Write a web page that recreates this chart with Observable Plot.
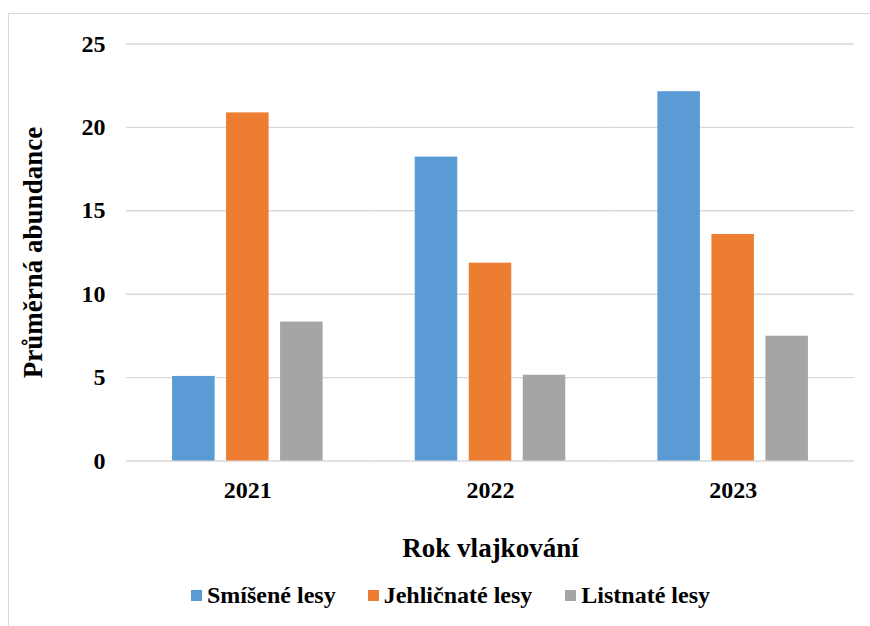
<!DOCTYPE html>
<html><head><meta charset="utf-8">
<script src="https://cdn.jsdelivr.net/npm/d3@7"></script>
<script src="https://cdn.jsdelivr.net/npm/@observablehq/plot@0.6"></script>
<style>
html,body{margin:0;padding:0;background:#fff;overflow:hidden;width:870px;height:626px;}
#frame{position:absolute;left:7.5px;top:12.5px;width:900px;height:700px;border:1.5px solid #d9d9d9;box-sizing:border-box}
#chart{position:absolute;left:0;top:0}
#legend{position:absolute;left:191px;top:580px;height:30px;display:flex;align-items:center;font:bold 24px "Liberation Serif","Times New Roman",serif;color:#000;white-space:nowrap}
#legend .item{display:flex;align-items:center}
#legend .sw{width:11px;height:11px;margin-right:5px}
</style>
</head><body>
<div id="frame"></div>
<div id="chart"></div>
<div id="legend"></div>
<script>
const years = ["2021", "2022", "2023"];
const types = ["Smíšené lesy", "Jehličnaté lesy", "Listnaté lesy"];
const smiseneLesy = [5.07, 18.22, 22.14];
const jehlicnateLesy = [20.87, 11.86, 13.58];
const listnateLesy = [8.33, 5.14, 7.48];
const colors = ["#5B9BD5", "#ED7D31", "#A5A5A5"];
const yTicks = [0, 5, 10, 15, 20, 25];
const yTitle = "Průměrná abundance";
const xTitle = "Rok vlajkování";

const seriesValues = [smiseneLesy, jehlicnateLesy, listnateLesy];
const table = [];
years.forEach((yr, i) => types.forEach((t, j) => table.push({year: yr, type: t, value: seriesValues[j][i]})));

const H = 575;
const chart = Plot.plot({
  width: 870,
  height: H,
  marginLeft: 126,
  marginRight: 16,
  marginTop: 43.5,
  marginBottom: H - 460.5,
  style: {fontFamily: '"Liberation Serif", "Times New Roman", serif', fontSize: "24px", fontWeight: "bold", color: "#000", background: "transparent", overflow: "visible"},
  fx: {domain: years, padding: 0, round: false, label: xTitle, labelAnchor: "center", labelOffset: 96, tickSize: 0, tickPadding: 20},
  x: {domain: types, paddingInner: 0.213, paddingOuter: 0.853, round: false, axis: null},
  y: {domain: [0, 25], ticks: yTicks, tickSize: 0, tickPadding: 21, label: yTitle, labelAnchor: "center", labelArrow: "none", labelOffset: 104},
  color: {domain: types, range: colors},
  marks: [
    Plot.gridY(yTicks, {stroke: "#d9d9d9", strokeOpacity: 1, strokeWidth: 1.4}),
    Plot.barY(table, {fx: "year", x: "type", y: "value", fill: "type"})
  ]
});
chart.querySelectorAll('[aria-label="y-axis label"], [aria-label="fx-axis label"]').forEach(g => g.setAttribute("font-size", "27"));
document.getElementById("chart").appendChild(chart);

const legend = document.getElementById("legend");
types.forEach((t, j) => {
  const item = document.createElement("div");
  item.className = "item";
  if (j > 0) item.style.marginLeft = j === 1 ? "32px" : "33px";
  const sw = document.createElement("span");
  sw.className = "sw";
  sw.style.background = colors[j];
  const lab = document.createElement("span");
  lab.textContent = t;
  item.appendChild(sw); item.appendChild(lab);
  legend.appendChild(item);
});
</script>
</body></html>
